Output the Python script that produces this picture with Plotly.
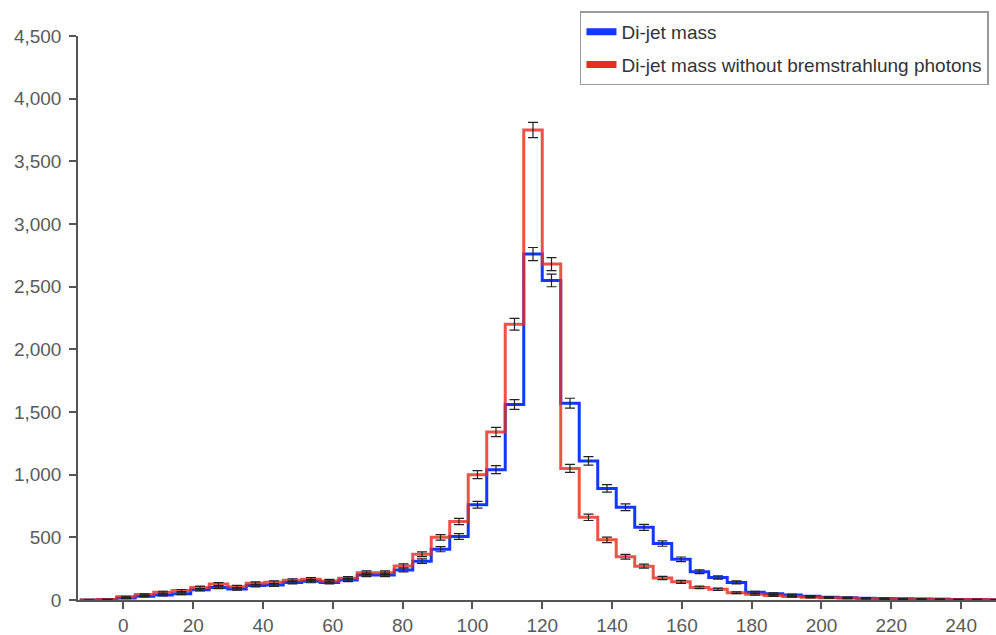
import numpy as np
import plotly.graph_objects as go

# Histogram binning (GeV)
bin_start = -12.5
bin_width = 5.3
n_bins = 50

# Counts per bin
dijet_mass = [0, 3, 15, 30, 40, 50, 82, 100, 88, 115,
              120, 140, 150, 140, 160, 200, 200, 240, 310, 405,
              507, 760, 1040, 1560, 2760, 2550, 1570, 1110, 890, 740,
              580, 450, 325, 225, 180, 140, 62, 50, 40, 30,
              22, 18, 14, 11, 9, 7, 5, 4, 3, 2]
dijet_mass_nobrem = [0, 3, 25, 43, 62, 75, 100, 127, 106, 133,
                     141, 157, 165, 152, 173, 218, 218, 272, 365, 500,
                     627, 1000, 1340, 2200, 3750, 2680, 1050, 660, 480, 345,
                     270, 175, 145, 100, 85, 58, 45, 35, 28, 22,
                     18, 15, 12, 10, 8, 6, 5, 4, 3, 2]

series_names = ["Di-jet mass", "Di-jet mass without bremstrahlung photons"]
x_ticks = list(range(0, 241, 20))
y_ticks = list(range(0, 4501, 500))

edges = bin_start + bin_width * np.arange(n_bins + 1)
centers = 0.5 * (edges[:-1] + edges[1:])

BLUE = "#1238ff"
RED = "rgba(230,45,32,0.82)"
FONT = "Liberation Sans, Arial, sans-serif"

fig = go.Figure()

for vals, color in [(dijet_mass, BLUE), (dijet_mass_nobrem, RED)]:
    v = np.array(vals, dtype=float)
    fig.add_trace(go.Scatter(
        x=edges, y=np.append(v, v[-1]), mode="lines",
        line=dict(color=color, width=3, shape="hv"),
        showlegend=False, hoverinfo="skip"))

for vals in (dijet_mass, dijet_mass_nobrem):
    v = np.array(vals, dtype=float)
    fig.add_trace(go.Scatter(
        x=centers, y=v, mode="markers",
        marker=dict(size=1, color="rgba(0,0,0,0)"),
        error_y=dict(type="data", array=np.sqrt(v), color="#222",
                     thickness=1.2, width=5),
        showlegend=False, hoverinfo="skip"))

# legend entries
for color, name, grp in [(BLUE, series_names[0], "a"), ("#e62d20", series_names[1], "b")]:
    fig.add_trace(go.Scatter(
        x=[None], y=[None], mode="lines", name=name, legendgroup=grp,
        line=dict(color=color, width=7)))

axis_common = dict(showgrid=False, zeroline=False, showline=True,
                   linecolor="#555", linewidth=1.5, tickcolor="#555",
                   tickwidth=1.5, ticklen=7, automargin=False,
                   tickfont=dict(family=FONT, size=19, color="#5a5a5a"))

fig.update_layout(
    width=996, height=635,
    margin=dict(l=78, r=0, t=36, b=35),
    paper_bgcolor="white", plot_bgcolor="white",
    font=dict(family=FONT, size=19, color="#333"),
    xaxis=dict(range=[-13, 250], tickvals=x_ticks, ticks="outside",
               ticklabelstandoff=0, **axis_common),
    yaxis=dict(range=[0, 4500], tickvals=y_ticks, ticks="outside",
               tickformat=",d", ticklabelstandoff=4, **axis_common),
    xaxis2=dict(range=[-13, 250], tickvals=x_ticks, ticks="inside",
                overlaying="x", showticklabels=False, showgrid=False,
                zeroline=False, showline=False, tickcolor="#555",
                tickwidth=1.5, ticklen=7, anchor="y", automargin=False),
    yaxis2=dict(range=[0, 4500], tickvals=y_ticks, ticks="inside",
                overlaying="y", showticklabels=False, showgrid=False,
                zeroline=False, showline=False, tickcolor="#555",
                tickwidth=1.5, ticklen=7, anchor="x", side="left",
                automargin=False),
    legend=dict(x=0.5468, y=1.0435, xanchor="left", yanchor="top",
                bgcolor="white", bordercolor="#999", borderwidth=1.5,
                font=dict(family=FONT, size=19, color="#333"),
                traceorder="grouped", tracegroupgap=5, itemwidth=30),
    showlegend=True,
)

fig.write_html("out.html", config={"displayModeBar": False},
               post_script="document.body.style.margin='0';document.body.style.overflow='hidden';")
